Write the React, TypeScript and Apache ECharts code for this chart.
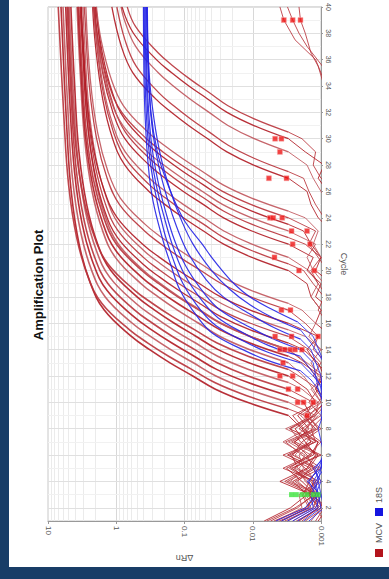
import React, { useEffect, useRef } from "react";
import * as echarts from "echarts";

// ---------- axis / grid values ----------
const cycleTicks = [2, 4, 6, 8, 10, 12, 14, 16, 18, 20, 22, 24, 26, 28, 30, 32, 34, 36, 38, 40];
const cycleMinorGrid = [3, 5, 7, 9, 11, 13, 15, 17, 19, 21, 23, 25, 27, 29, 31, 33, 35, 37, 39];
const deltaRnMajor = [0.01, 0.1, 1];
const deltaRnMinor = [
  0.002, 0.003, 0.004, 0.005, 0.006, 0.007, 0.008, 0.009,
  0.02, 0.03, 0.04, 0.05, 0.06, 0.07, 0.08, 0.09,
  0.2, 0.3, 0.4, 0.5, 0.6, 0.7, 0.8, 0.9,
  2, 3, 4, 5, 6, 7, 8, 9,
];

// ---------- MCV curves: [cycle, deltaRn] ----------
const mcvRise: number[][][] = [
  [[9,0.003],[10,0.012],[11,0.0352],[12,0.0757],[13,0.163],[14,0.324],[15,0.6],[17,1.5],[19,2.38],[22,3.5],[26,4.57],[31,5.33],[40,6.45]],
  [[9.5,0.003],[10.5,0.0122],[11.5,0.0361],[12.5,0.0785],[13.5,0.171],[14.5,0.344],[15.5,0.638],[17.5,1.62],[19.5,2.58],[22.5,3.8],[26.5,4.99],[31.5,5.83],[40,7.08]],
  [[10,0.003],[11,0.0119],[12,0.0346],[13,0.0741],[14,0.159],[15,0.315],[16,0.581],[18,1.45],[20,2.29],[23,3.35],[27,4.38],[32,5.09],[40,6.03]],
  [[10.5,0.003],[11.5,0.0117],[12.5,0.0339],[13.5,0.0721],[14.5,0.153],[15.5,0.303],[16.5,0.553],[18.5,1.37],[20.5,2.16],[23.5,3.15],[27.5,4.09],[32.5,4.76],[40,5.5]],
  [[11,0.003],[12,0.0117],[13,0.0333],[14,0.0706],[15,0.15],[16,0.294],[17,0.536],[19,1.32],[21,2.07],[24,3.01],[28,3.92],[33,4.56],[40,5.25]],
  [[11.5,0.003],[12.5,0.0115],[13.5,0.0327],[14.5,0.0687],[15.5,0.145],[16.5,0.282],[17.5,0.512],[19.5,1.25],[21.5,1.95],[24.5,2.83],[28.5,3.67],[33.5,4.26],[40,4.9]],
  [[12,0.003],[13,0.0114],[14,0.0321],[15,0.0673],[16,0.141],[17,0.274],[18,0.495],[20,1.2],[22,1.87],[25,2.71],[29,3.52],[34,4.07],[40,4.62]],
  [[12.5,0.003],[13.5,0.0117],[14.5,0.0333],[15.5,0.0706],[16.5,0.15],[17.5,0.294],[18.5,0.536],[20.5,1.32],[22.5,2.07],[25.5,3.01],[29.5,3.92],[34.5,4.56],[40,5.09]],
  [[13,0.003],[14,0.011],[15,0.0302],[16,0.062],[17,0.127],[18,0.243],[19,0.433],[21,1.03],[23,1.58],[26,2.26],[30,2.91],[35,3.37],[40,3.75]],
  [[13.5,0.003],[14.5,0.011],[15.5,0.03],[16.5,0.0615],[17.5,0.126],[18.5,0.24],[19.5,0.427],[21.5,1.01],[23.5,1.55],[26.5,2.22],[30.5,2.86],[35.5,3.3],[40,3.63]],
  [[14,0.003],[15,0.0109],[16,0.0298],[17,0.061],[18,0.125],[19,0.237],[20,0.421],[22,0.993],[24,1.52],[27,2.18],[31,2.8],[36,3.23],[40,3.55]],
  [[14,0.003],[15,0.0108],[16,0.029],[17,0.059],[18,0.12],[19,0.226],[20,0.398],[22,0.931],[24,1.43],[27,2.03],[31,2.6],[36,2.99],[40,3.31]],
  [[14.5,0.003],[15.5,0.0109],[16.5,0.0294],[17.5,0.0598],[18.5,0.122],[19.5,0.231],[20.5,0.408],[22.5,0.957],[24.5,1.47],[27.5,2.09],[31.5,2.69],[36.5,3.1],[40,3.39]],
  [[15,0.003],[16,0.0108],[17,0.0291],[18,0.0592],[19,0.12],[20,0.227],[21,0.4],[23,0.938],[25,1.43],[28,2.04],[32,2.62],[37,3.02],[40,3.31]],
  [[15.5,0.003],[16.5,0.0107],[17.5,0.0288],[18.5,0.0583],[19.5,0.118],[20.5,0.223],[21.5,0.392],[23.5,0.912],[25.5,1.39],[28.5,1.98],[32.5,2.54],[37.5,2.92],[40,3.09]],
  [[16,0.003],[17,0.0109],[18,0.0294],[19,0.06],[20,0.122],[21,0.232],[22,0.41],[24,0.964],[26,1.48],[29,2.11],[33,2.7],[38,3.12],[40,3.24]],
  [[17,0.003],[18,0.0107],[19,0.0286],[20,0.0578],[21,0.117],[22,0.22],[23,0.385],[25,0.895],[27,1.36],[30,1.94],[34,2.48],[39,2.86],[40,2.95]],
  [[17.5,0.003],[18.5,0.0106],[19.5,0.0283],[20.5,0.057],[21.5,0.115],[22.5,0.215],[23.5,0.377],[25.5,0.871],[27.5,1.32],[30.5,1.88],[34.5,2.4],[40,2.79]],
  [[20,0.003],[21,0.0103],[22,0.0267],[23,0.0527],[24,0.104],[25,0.192],[26,0.331],[28,0.748],[30,1.13],[33,1.58],[37,2.01],[40,2.22]],
  [[20.5,0.003],[21.5,0.0102],[22.5,0.0265],[23.5,0.0521],[24.5,0.103],[25.5,0.189],[26.5,0.326],[28.5,0.735],[30.5,1.1],[33.5,1.55],[37.5,1.96],[40,2.14]],
  [[21,0.003],[22,0.0103],[23,0.0265],[24,0.0522],[25,0.103],[26,0.19],[27,0.327],[29,0.738],[31,1.11],[34,1.56],[38,1.97],[40,2.09]],
  [[22,0.003],[23,0.0103],[24,0.0267],[25,0.0526],[26,0.104],[27,0.192],[28,0.33],[30,0.748],[32,1.12],[35,1.58],[39,2.0],[40,2.04]],
  [[22.5,0.003],[23.5,0.0102],[24.5,0.0265],[25.5,0.0521],[26.5,0.103],[27.5,0.189],[28.5,0.326],[30.5,0.735],[32.5,1.1],[35.5,1.55],[40,1.98]],
  [[23,0.003],[24,0.0104],[25,0.0274],[26,0.0545],[27,0.108],[28,0.201],[29,0.349],[31,0.798],[33,1.21],[36,1.7],[40,2.19]],
  [[23.5,0.003],[24.5,0.0103],[25.5,0.0267],[26.5,0.0528],[27.5,0.104],[28.5,0.193],[29.5,0.333],[31.5,0.755],[33.5,1.14],[36.5,1.6],[40,2.0]],
  [[24,0.003],[25,0.0105],[26,0.0277],[27,0.0555],[28,0.111],[29,0.207],[30,0.361],[32,0.828],[34,1.26],[37,1.77],[40,2.14]],
  [[24.5,0.003],[25.5,0.0104],[26.5,0.0272],[27.5,0.054],[28.5,0.107],[29.5,0.199],[30.5,0.344],[32.5,0.783],[34.5,1.18],[37.5,1.67],[40,1.95]],
  [[27,0.003],[28,0.0097],[29,0.0239],[30,0.0457],[31,0.0873],[32,0.156],[33,0.262],[35,0.57],[37,0.841],[40,1.16]],
  [[27.5,0.003],[28.5,0.0094],[29.5,0.0229],[30.5,0.0432],[31.5,0.0813],[32.5,0.144],[33.5,0.239],[35.5,0.511],[37.5,0.746],[40,0.98]],
  [[29,0.003],[30,0.0095],[31,0.0231],[32,0.0436],[33,0.0822],[34,0.146],[35,0.242],[37,0.52],[39,0.76],[40,0.85]],
  [[30,0.003],[31,0.0096],[32,0.0238],[33,0.0453],[34,0.0863],[35,0.154],[36,0.258],[38,0.56],[40,0.824]],
  [[30.5,0.003],[31.5,0.0095],[32.5,0.0231],[33.5,0.0436],[34.5,0.0822],[35.5,0.146],[36.5,0.242],[38.5,0.52],[40,0.69]],
];

const mcvBaseline: number[][][] = [
  [[1,0.0068],[2,0.0028],[3,0.0016],[4,0.0026],[5,0.0012],[6,0.0031],[7,0.0014],[8,0.0019],[9,0.003]],
  [[1,0.0055],[2,0.0022],[3,0.0013],[4,0.0034],[5,0.0015],[6,0.0011],[7,0.0027],[8,0.0013],[9,0.0017],[9.5,0.003]],
  [[1,0.0045],[2,0.0019],[3,0.0021],[4,0.0011],[5,0.0024],[6,0.0017],[7,0.0036],[8,0.0016],[9,0.0012],[10,0.003]],
  [[1,0.0038],[2,0.0016],[3,0.0012],[4,0.0019],[5,0.0032],[6,0.0013],[7,0.0011],[8,0.0029],[9,0.0014],[10,0.0018],[10.5,0.003]],
  [[1,0.0031],[2,0.0014],[3,0.0018],[4,0.0015],[5,0.0011],[6,0.0026],[7,0.0019],[8,0.001],[9,0.0017],[10,0.0013],[11,0.003]],
  [[1,0.0026],[2,0.0012],[3,0.001],[4,0.0028],[5,0.0018],[6,0.0021],[7,0.0013],[8,0.0033],[9,0.0012],[10,0.0011],[11,0.0019],[11.5,0.003]],
  [[1,0.0021],[2,0.0011],[3,0.0015],[4,0.0013],[5,0.0027],[6,0.001],[7,0.0024],[8,0.0015],[9,0.0022],[10,0.0012],[11,0.0016],[12,0.003]],
  [[1,0.0017],[2,0.0009],[3,0.0013],[4,0.0022],[5,0.0014],[6,0.0036],[7,0.0012],[8,0.0019],[9,0.001],[10,0.0015],[11,0.0011],[12,0.0021],[12.5,0.003]],
  [[1,0.0014],[2,0.001],[3,0.0011],[4,0.0017],[5,0.0021],[6,0.0014],[7,0.003],[8,0.0011],[9,0.0015],[10,0.001],[11,0.0013],[12,0.0018],[13,0.003]],
  [[1,0.0011],[2,0.0008],[3,0.0014],[4,0.004],[5,0.0016],[6,0.0012],[7,0.0017],[8,0.0024],[9,0.0013],[10,0.0009],[11,0.0012],[12,0.001],[13,0.0019],[13.5,0.003]],
  [[1,0.0049],[2,0.0017],[3,0.0011],[4,0.0014],[5,0.0029],[6,0.0015],[7,0.001],[8,0.0018],[9,0.0026],[10,0.0011],[11,0.0008],[12,0.0012],[13,0.0017],[14,0.003]],
  [[1,0.0009],[2,0.0012],[3,0.0017],[4,0.001],[5,0.0013],[6,0.0024],[7,0.0016],[8,0.0012],[9,0.002],[10,0.001],[11,0.0014],[12,0.0009],[13,0.0016],[14,0.003]],
  [[10,0.0007],[11,0.0012],[12,0.0009],[13,0.0011],[14,0.0018],[14.5,0.003]],
  [[11,0.0008],[12,0.0013],[13,0.001],[14,0.0015],[15,0.003]],
  [[11,0.0006],[12,0.0011],[13,0.0014],[14,0.001],[15,0.0017],[15.5,0.003]],
  [[12,0.0007],[13,0.0012],[14,0.0016],[15,0.0011],[16,0.003]],
  [[13,0.0008],[14,0.0013],[15,0.0011],[16,0.0017],[17,0.003]],
  [[13,0.0006],[14,0.001],[15,0.0015],[16,0.0012],[17,0.0019],[17.5,0.003]],
  [[15,0.0007],[16,0.0012],[17,0.001],[18,0.0014],[19,0.0016],[20,0.003]],
  [[16,0.0008],[17,0.0011],[18,0.0009],[19,0.0013],[20,0.0018],[20.5,0.003]],
  [[16,0.0006],[17,0.001],[18,0.0014],[19,0.0011],[20,0.0015],[21,0.003]],
  [[17,0.0007],[18,0.0012],[19,0.001],[20,0.0016],[21,0.0013],[22,0.003]],
  [[18,0.0008],[19,0.0011],[20,0.0014],[21,0.001],[22,0.0017],[22.5,0.003]],
  [[18,0.0006],[19,0.0009],[20,0.0013],[21,0.0016],[22,0.0012],[23,0.003]],
  [[19,0.0007],[20,0.0012],[21,0.001],[22,0.0014],[23,0.0018],[23.5,0.003]],
  [[20,0.0008],[21,0.0011],[22,0.0015],[23,0.0012],[24,0.003]],
  [[20,0.0006],[21,0.001],[22,0.0013],[23,0.0011],[24,0.0017],[24.5,0.003]],
  [[23,0.0007],[24,0.0011],[25,0.0014],[26,0.0016],[27,0.003]],
  [[23,0.0006],[24,0.0009],[25,0.0012],[26,0.0015],[27,0.0018],[27.5,0.003]],
  [[25,0.0007],[26,0.001],[27,0.0013],[28,0.0016],[29,0.003]],
  [[26,0.0008],[27,0.0011],[28,0.0009],[29,0.0017],[30,0.003]],
  [[26,0.0006],[27,0.001],[28,0.0013],[29,0.0012],[30,0.0019],[30.5,0.003]],
];

// wells with no real amplification (noise only)
const mcvNoise: number[][][] = [
  [[1,0.0062],[2,0.0024],[3,0.0012],[4,0.0016],[5,0.0025],[6,0.0011],[7,0.002],[8,0.0028],[9,0.0012],[10,0.0008]],
  [[1,0.0041],[2,0.0015],[3,0.0019],[4,0.0012],[5,0.0017],[6,0.0029],[7,0.0012],[8,0.0014],[9,0.0009]],
  [[1,0.0034],[2,0.0013],[3,0.0011],[4,0.0031],[5,0.0013],[6,0.0016],[7,0.0025],[8,0.0011],[9,0.0016],[10,0.0008]],
  [[1,0.0023],[2,0.001],[3,0.0016],[4,0.0012],[5,0.0036],[6,0.0014],[7,0.0011],[8,0.0021],[9,0.0013]],
  [[1,0.0019],[2,0.0011],[3,0.0012],[4,0.0024],[5,0.001],[6,0.0019],[7,0.0033],[8,0.0012],[9,0.0018]],
  [[1,0.0012],[2,0.0009],[3,0.0015],[4,0.0011],[5,0.0022],[6,0.0027],[7,0.0014],[8,0.0017],[9,0.0011]],
  [[33,0.0007],[36,0.0012],[37.5,0.0024],[39,0.0035],[40,0.004]],
  [[35,0.0008],[37,0.0016],[38,0.0021],[39,0.0026],[40,0.0031]],
  [[34,0.0009],[35.5,0.0011],[36.5,0.0014],[38,0.0017],[39,0.002],[40,0.0021]],
];

// ---------- 18S curves: [cycle, deltaRn] ----------
const s18Rise: number[][][] = [
  [[12.4,0.002],[13.2,0.0062],[14,0.014],[15.2,0.038],[16.5,0.065],[18.5,0.116],[20.5,0.16],[22.3,0.207],[25.3,0.29],[28,0.34],[32,0.38],[36,0.395],[40,0.4]],
  [[13,0.002],[13.8,0.006],[14.6,0.013],[15.8,0.034],[17,0.058],[19,0.105],[21,0.15],[23,0.2],[26,0.27],[29,0.33],[33,0.37],[40,0.39]],
  [[13.5,0.002],[14.3,0.0058],[15.2,0.013],[16.4,0.032],[17.7,0.055],[19.7,0.1],[21.7,0.145],[23.7,0.19],[26.5,0.26],[29.5,0.32],[34,0.36],[40,0.38]],
  [[14,0.002],[14.9,0.0055],[15.8,0.012],[17,0.03],[18.3,0.052],[20.3,0.095],[22.3,0.14],[24.3,0.185],[27,0.25],[30,0.31],[34,0.35],[40,0.37]],
  [[14.8,0.002],[15.7,0.005],[16.7,0.011],[18,0.027],[19.3,0.048],[21.3,0.088],[23.3,0.13],[25.3,0.175],[28,0.24],[31,0.3],[35,0.34],[40,0.36]],
  [[15.5,0.002],[16.4,0.005],[17.4,0.011],[18.6,0.022],[20,0.04],[22,0.075],[24,0.115],[26,0.16],[28.5,0.22],[31.5,0.28],[35,0.33],[40,0.35]],
  [[16.1,0.0022],[17,0.005],[18,0.011],[18.9,0.018],[20,0.028],[21,0.04],[22,0.055],[23.7,0.098],[25.3,0.14],[27,0.19],[29,0.25],[32,0.31],[36,0.34],[40,0.355]],
];

const s18Baseline: number[][][] = [
  [[1,0.0046],[2,0.0017],[3,0.0012],[4,0.0015],[5,0.0011],[6,0.0009],[8,0.0008],[10,0.0009],[11,0.0011],[11.7,0.0014],[12.4,0.002]],
  [[1,0.0038],[2,0.0015],[3,0.0011],[4,0.0013],[5,0.001],[7,0.0008],[9,0.001],[11,0.0009],[12,0.0013],[13,0.002]],
  [[1,0.0031],[2,0.0013],[3,0.0014],[4,0.0011],[5,0.0012],[6,0.0009],[8,0.0011],[10,0.0008],[12,0.0012],[13.5,0.002]],
  [[1,0.0026],[2,0.0012],[3,0.001],[4,0.0016],[5,0.001],[7,0.0009],[9,0.0008],[11,0.0011],[13,0.0013],[14,0.002]],
  [[1,0.0022],[2,0.0011],[3,0.0012],[4,0.001],[5,0.0013],[6,0.0008],[9,0.0009],[12,0.001],[14,0.0014],[14.8,0.002]],
  [[1,0.0018],[2,0.001],[3,0.0011],[4,0.0012],[5,0.0009],[8,0.0008],[11,0.001],[13,0.0009],[14.5,0.0014],[15.5,0.002]],
  [[1,0.0015],[2,0.0009],[3,0.001],[4,0.0011],[5,0.001],[7,0.0009],[10,0.0008],[13,0.0009],[15,0.0013],[16.1,0.0022]],
];

// ---------- markers: [cycle, deltaRn] ----------
const redMarks = [
  [39,0.0035],[39,0.0026],[39,0.002],
  [30,0.0047],[30,0.0038],[29,0.004],
  [27,0.0058],[27,0.0032],
  [24,0.0056],[24,0.005],[24,0.0037],
  [23,0.0027],[23,0.0016],[22,0.0026],[22,0.00145],
  [21,0.0048],[20,0.0021],[20,0.00125],
  [17,0.0038],[17,0.0028],
  [15,0.0047],[15,0.0027],[15,0.0011],
  [14,0.004],[14,0.0034],[14,0.0028],[14,0.0024],[14,0.0019],
  [13,0.0036],[12,0.004],[12,0.0026],
  [11,0.003],[11,0.0022],
  [10,0.0022],[10,0.0018],[10,0.0013],
  [9,0.0016],
];
const greenMarks = [
  [3,0.0027],[3,0.0023],[3,0.0019],[3,0.0016],[3,0.0013],[3,0.0011],
];

const FONT = '"Liberation Sans", Arial, Helvetica, sans-serif';
const swap = (pts: number[][]) => pts.map((p) => [p[1], p[0]]);

export default function App() {
  const ref = useRef<HTMLDivElement>(null);

  useEffect(() => {
    if (!ref.current) return;
    const chart = echarts.init(ref.current, undefined, { renderer: "svg" });

    const series: any[] = [];

    // grid lines via markLine (kept underneath the curves)
    const gridLines: any[] = [];
    deltaRnMinor.forEach((v) => gridLines.push({ xAxis: v, lineStyle: { color: "#ebebeb", width: 1, type: "solid" } }));
    deltaRnMajor.forEach((v) => gridLines.push({ xAxis: v, lineStyle: { color: "#d8d8d8", width: 1, type: "solid" } }));
    cycleMinorGrid.forEach((c) => gridLines.push({ yAxis: c, lineStyle: { color: "#f1f1f1", width: 1, type: "solid" } }));
    cycleTicks.forEach((c) => gridLines.push({ yAxis: c, lineStyle: { color: "#e0e0e0", width: 1, type: "solid" } }));
    series.push({
      type: "line",
      data: [[0.0005, 0]],
      showSymbol: false,
      silent: true,
      z: 0,
      lineStyle: { width: 0 },
      markLine: {
        z: 0,
        silent: true,
        symbol: ["none", "none"],
        label: { show: false },
        animation: false,
        data: gridLines,
      },
    });

    const redColors = ["#b01a22", "#b8323a", "#c0545b"];

    mcvNoise.forEach((pts) =>
      series.push({
        type: "line", data: swap(pts), showSymbol: false, silent: true, z: 2,
        lineStyle: { color: "#b8343c", width: 1, opacity: 0.85 },
      })
    );
    mcvBaseline.forEach((pts, i) =>
      series.push({
        type: "line", data: swap(pts), showSymbol: false, silent: true, z: 2,
        lineStyle: { color: redColors[i % 3], width: 1, opacity: 0.85 },
      })
    );
    mcvRise.forEach((pts, i) =>
      series.push({
        type: "line", data: swap(pts), showSymbol: false, silent: true, z: 2,
        smooth: 0.4,
        lineStyle: { color: redColors[i % 3], width: i < 12 ? 1.6 : 1.3, opacity: 0.9 },
      })
    );
    s18Baseline.forEach((pts) =>
      series.push({
        type: "line", data: swap(pts), showSymbol: false, silent: true, z: 3,
        lineStyle: { color: "#2a2ae8", width: 1, opacity: 0.85 },
      })
    );
    s18Rise.forEach((pts) =>
      series.push({
        type: "line", data: swap(pts), showSymbol: false, silent: true, z: 3,
        smooth: 0.4,
        lineStyle: { color: "#2323e6", width: 1.2, opacity: 0.9 },
      })
    );
    series.push({
      type: "scatter", data: swap(redMarks), symbol: "rect", symbolSize: 5, silent: true, z: 5,
      itemStyle: { color: "#f01515", borderColor: "#f6a3a3", borderWidth: 0.6 },
    });
    series.push({
      type: "scatter", data: swap(greenMarks), symbol: "rect", symbolSize: 5, silent: true, z: 5,
      itemStyle: { color: "#3ce43c" },
    });

    chart.setOption({
      animation: false,
      textStyle: { fontFamily: FONT },
      grid: { left: 48, right: 68, top: 6, bottom: 58, containLabel: false, show: true, borderColor: "#c8c8c8", borderWidth: 1, z: 0 },
      xAxis: {
        type: "log",
        logBase: 10,
        min: 0.001,
        max: 10,
        inverse: true,
        position: "bottom",
        name: "ΔRn",
        nameLocation: "middle",
        nameRotate: 180,
        nameGap: 32,
        nameTextStyle: { fontSize: 9, color: "#555", fontFamily: FONT },
        axisLine: { show: true, onZero: false, lineStyle: { color: "#999" } },
        axisTick: { show: true, length: 3, lineStyle: { color: "#999" } },
        axisLabel: {
          rotate: -90,
          fontSize: 8,
          color: "#555",
          margin: 5,
          fontFamily: FONT,
          formatter: (v: number) => String(v),
        },
        splitLine: { show: false },
      },
      yAxis: {
        type: "value",
        min: 1,
        max: 40,
        position: "right",
        name: "Cycle",
        nameLocation: "middle",
        nameRotate: -90,
        nameGap: 18,
        nameTextStyle: { fontSize: 9, color: "#555", fontFamily: FONT },
        axisLine: { show: true, onZero: false, lineStyle: { color: "#999" } },
        axisTick: { show: true, length: 2, customValues: cycleTicks, lineStyle: { color: "#999" } },
        axisLabel: {
          customValues: cycleTicks,
          rotate: -90,
          fontSize: 7,
          color: "#555",
          margin: 4,
          fontFamily: FONT,
        },
        splitLine: { show: false },
      },
      graphic: [
        {
          type: "text", x: 38, y: 285, rotation: Math.PI / 2, silent: true,
          style: { text: "Amplification Plot", font: `bold 13px ${FONT}`, fill: "#111", align: "center", verticalAlign: "middle" },
        },
        { type: "rect", shape: { x: 375, y: 549, width: 8, height: 8 }, style: { fill: "#b3141c" }, silent: true },
        {
          type: "text", x: 379, y: 533, rotation: Math.PI / 2, silent: true,
          style: { text: "MCV", font: `9px ${FONT}`, fill: "#555", align: "center", verticalAlign: "middle" },
        },
        { type: "rect", shape: { x: 375, y: 508, width: 8, height: 8 }, style: { fill: "#1515e0" }, silent: true },
        {
          type: "text", x: 379, y: 495, rotation: Math.PI / 2, silent: true,
          style: { text: "18S", font: `9px ${FONT}`, fill: "#555", align: "center", verticalAlign: "middle" },
        },
      ],
      series,
    });

    return () => chart.dispose();
  }, []);

  return (
    <div style={{ position: "fixed", left: 0, top: 0, width: 389, height: 579, background: "#183d67", overflow: "hidden" }}>
      <div style={{ position: "absolute", left: 9, top: 0, width: 380, height: 567, background: "#ffffff" }} />
      <div ref={ref} style={{ position: "absolute", left: 0, top: 0, width: 389, height: 579 }} />
    </div>
  );
}
